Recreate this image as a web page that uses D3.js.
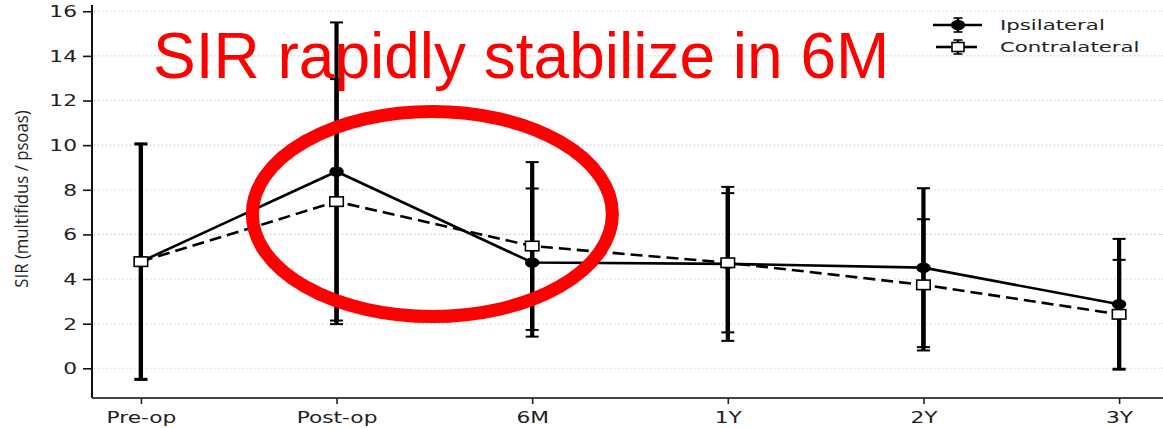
<!DOCTYPE html>
<html>
<head>
<meta charset="utf-8">
<script src="https://cdn.jsdelivr.net/npm/d3@7"></script>
<style>
  html, body { margin: 0; padding: 0; background: #fff; }
  svg { display: block; }
</style>
</head>
<body>
<svg id="chart" width="1163" height="428"></svg>
<script>
// Time points after surgery
const categories = ["Pre-op", "Post-op", "6M", "1Y", "2Y", "3Y"];
// Ipsilateral side: mean and standard deviation of SIR
const ipsiMean = [4.78, 8.82, 4.74, 4.68, 4.51, 2.87];
const ipsiSD   = [5.30, 6.68, 3.32, 3.45, 3.56, 2.93];
// Contralateral side: mean and standard deviation of SIR
const contraMean = [4.78, 7.47, 5.48, 4.73, 3.74, 2.42];
const contraSD   = [5.25, 5.49, 3.76, 3.12, 2.94, 2.44];
// Y tick values
const yTicks = [0, 2, 4, 6, 8, 10, 12, 14, 16];
const seriesNames = ["Ipsilateral", "Contralateral"];
const headline = "SIR rapidly stabilize in 6M";

const W = 1163, H = 428;
const svg = d3.select("#chart");
const stretch = 1.45;   // horizontal glyph stretch of the figure

const x = d3.scaleLinear().domain([-0.25, 5.25]).range([92, 1168]);
const y = d3.scaleLinear().domain([-1.33, 16.28]).range([398, 5]);

const tickFont = "'DejaVu Sans', sans-serif";

// dotted horizontal grid
svg.append("g").selectAll("line").data(yTicks).join("line")
  .attr("x1", x.range()[0] + 2).attr("x2", W)
  .attr("y1", d => y(d)).attr("y2", d => y(d))
  .attr("stroke", "#c8c8c8").attr("stroke-width", 1.1)
  .attr("stroke-dasharray", "1.3,2.7");

// y axis
const yAxis = svg.append("g").attr("transform", `translate(${x.range()[0]},0)`)
  .call(d3.axisLeft(y).tickValues(yTicks).tickSize(9).tickPadding(6));
yAxis.select(".domain").attr("stroke", "#111").attr("stroke-width", 2)
  .attr("d", `M0,${y.range()[1]}V${y.range()[0]}`);
yAxis.selectAll(".tick line").attr("stroke", "#111").attr("stroke-width", 1.6);
yAxis.selectAll(".tick text")
  .attr("font-family", tickFont).attr("font-size", 15).attr("fill", "#222")
  .attr("dy", "0.36em")
  .each(function() {
    const t = d3.select(this);
    const tx = +t.attr("x");
    t.attr("x", null).attr("transform", `translate(${tx},0) scale(${stretch},1)`);
  });

// x axis
const xAxis = svg.append("g").attr("transform", `translate(0,${y.range()[0]})`)
  .call(d3.axisBottom(x).tickValues(d3.range(categories.length))
    .tickFormat(i => categories[i]).tickSize(6).tickPadding(6));
xAxis.select(".domain").attr("stroke", "#444").attr("stroke-width", 2)
  .attr("d", `M${x.range()[0]},0H${W}`);
xAxis.selectAll(".tick line").attr("stroke", "#222").attr("stroke-width", 1.6);
xAxis.selectAll(".tick text")
  .attr("font-family", tickFont).attr("font-size", 15).attr("fill", "#222")
  .attr("dy", "0.85em")
  .each(function() {
    const t = d3.select(this);
    const ty = +t.attr("y");
    t.attr("y", null).attr("transform", `translate(0,${ty}) scale(${stretch},1)`);
  });

// y axis title (condensed along its length)
svg.append("text")
  .attr("transform", `translate(28,199) rotate(-90) scale(0.93,1)`)
  .attr("text-anchor", "middle")
  .attr("font-family", "'Open Sans', sans-serif").attr("font-size", 18)
  .attr("fill", "#222")
  .text("SIR (multifidus / psoas)");

const series = [
  { name: seriesNames[0], mean: ipsiMean, sd: ipsiSD, dash: null },
  { name: seriesNames[1], mean: contraMean, sd: contraSD, dash: "12,6" }
];

// error bars
const capHalf = 6.5;
series.forEach(s => {
  const g = svg.append("g");
  const idx = d3.range(categories.length);
  g.selectAll("line.bar").data(idx).join("line").attr("class", "bar")
    .attr("x1", i => x(i)).attr("x2", i => x(i))
    .attr("y1", i => y(s.mean[i] + s.sd[i])).attr("y2", i => y(s.mean[i] - s.sd[i]))
    .attr("stroke", "#000").attr("stroke-width", 4.2);
  [1, -1].forEach(sign => {
    g.selectAll(null).data(idx).join("line")
      .attr("x1", i => x(i) - capHalf).attr("x2", i => x(i) + capHalf)
      .attr("y1", i => y(s.mean[i] + sign * s.sd[i])).attr("y2", i => y(s.mean[i] + sign * s.sd[i]))
      .attr("stroke", "#000").attr("stroke-width", 2);
  });
});

// mean lines
const line = d3.line().x((d, i) => x(i)).y(d => y(d));
series.forEach(s => {
  svg.append("path").datum(s.mean)
    .attr("d", line).attr("fill", "none")
    .attr("stroke", "#000").attr("stroke-width", 2.6)
    .attr("stroke-dasharray", s.dash);
});

// markers
function circleMarker(g, cx, cy) {
  g.append("ellipse").attr("cx", cx).attr("cy", cy).attr("rx", 7.2).attr("ry", 5.3)
    .attr("fill", "#000");
}
function squareMarker(g, cx, cy, w, h) {
  g.append("rect").attr("x", cx - w / 2).attr("y", cy - h / 2)
    .attr("width", w).attr("height", h)
    .attr("fill", "#fff").attr("stroke", "#000").attr("stroke-width", 1.6);
}
const mk = svg.append("g");
ipsiMean.forEach((v, i) => circleMarker(mk, x(i), y(v)));
contraMean.forEach((v, i) => squareMarker(mk, x(i), y(v), 13.5, 9.5));

// legend
const lg = svg.append("g");
const legendRows = [
  { name: seriesNames[0], cy: 25, x1: 933, x2: 982 },
  { name: seriesNames[1], cy: 47, x1: 936, x2: 977 }
];
legendRows.forEach((r, k) => {
  const cx = 958;
  if (k === 0) {
    lg.append("line").attr("x1", r.x1).attr("x2", r.x2).attr("y1", r.cy).attr("y2", r.cy)
      .attr("stroke", "#000").attr("stroke-width", 2.6);
  } else {
    lg.append("line").attr("x1", r.x1).attr("x2", cx - 4).attr("y1", r.cy).attr("y2", r.cy)
      .attr("stroke", "#000").attr("stroke-width", 2.6);
    lg.append("line").attr("x1", cx + 4).attr("x2", r.x2).attr("y1", r.cy).attr("y2", r.cy)
      .attr("stroke", "#000").attr("stroke-width", 2.6);
  }
  lg.append("line").attr("x1", cx).attr("x2", cx).attr("y1", r.cy - 7).attr("y2", r.cy + 7)
    .attr("stroke", "#000").attr("stroke-width", 2.4);
  [-7, 7].forEach(o => lg.append("line").attr("x1", cx - 4.5).attr("x2", cx + 4.5)
    .attr("y1", r.cy + o).attr("y2", r.cy + o).attr("stroke", "#000").attr("stroke-width", 1.6));
  if (k === 0) circleMarker(lg, cx, r.cy); else squareMarker(lg, cx, r.cy, 12, 9);
  lg.append("text")
    .attr("transform", `translate(1000,${r.cy}) scale(1.52,1)`)
    .attr("dy", "0.36em")
    .attr("font-family", tickFont).attr("font-size", 14).attr("fill", "#222")
    .text(r.name);
});

// annotation: headline and highlight ellipse
svg.append("text")
  .attr("x", 153).attr("y", 78)
  .attr("font-family", "'Liberation Sans', Arial, sans-serif")
  .attr("font-size", 64).attr("fill", "#ff0000")
  .text(headline);

svg.append("ellipse")
  .attr("cx", (x(1) + x(2)) / 2 - 2).attr("cy", 214)
  .attr("rx", 180).attr("ry", 102.5)
  .attr("fill", "none").attr("stroke", "#ff0000").attr("stroke-width", 13);
</script>
</body>
</html>
